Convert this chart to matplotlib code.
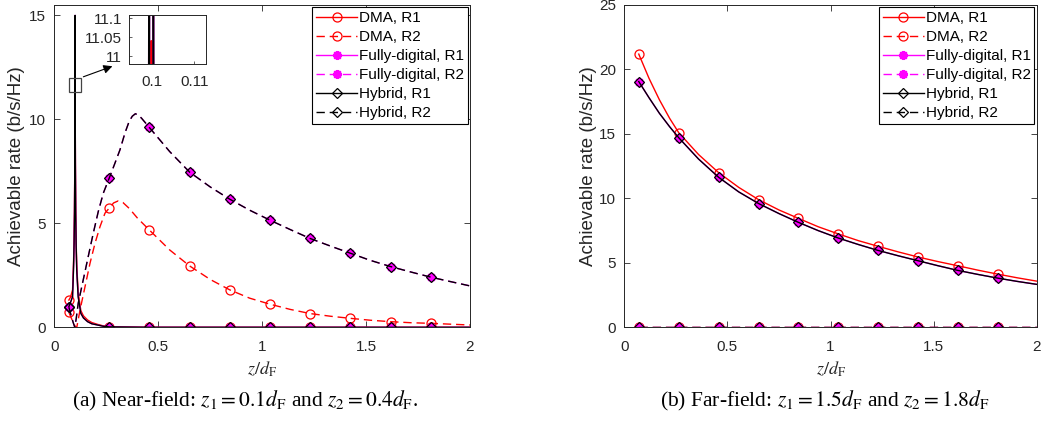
import numpy as np
import matplotlib
matplotlib.use('Agg')
import matplotlib.pyplot as plt
from matplotlib.lines import Line2D
from matplotlib.patches import Rectangle

plt.rcParams['font.family'] = ['Liberation Sans', 'DejaVu Sans']
plt.rcParams['mathtext.fontset'] = 'stix'

# x positions of the markers (same for every curve)
mk_x = [0.07, 0.264, 0.457, 0.651, 0.844, 1.038, 1.231, 1.425, 1.618, 1.812]

# ---- (a) near-field, user R1 (spike at z1 = 0.1)
near_r1_x = [0.07, 0.078, 0.0877, 0.0921, 0.095, 0.097, 0.0985, 0.0994, 0.0996, 0.0998,
             0.0999, 0.1, 0.1002, 0.1004, 0.1013, 0.1028, 0.1048, 0.1077, 0.1146, 0.1275,
             0.14, 0.16, 0.18, 0.208, 0.235, 0.264, 0.457, 0.651, 0.844, 1.038, 1.231,
             1.425, 1.618, 1.812, 2.0]
near_dma_r1 = [1.31, 1.45, 1.8, 3.0, 4.2, 5.7, 8.0, 10.6, 10.95, 11.035,
               11.04, 11.035, 10.95, 10.6, 8.0, 5.7, 4.2, 3.0, 1.7, 0.8,
               0.55, 0.35, 0.23, 0.14, 0.07, 0.03, 0, 0, 0, 0, 0,
               0, 0, 0, 0]
near_hyb_r1 = [0.99, 1.2, 1.47, 2.76, 4.0, 5.5, 7.8, 11.0, 12.6, 14.2,
               15.0, 14.2, 12.6, 11.0, 7.8, 5.5, 4.0, 2.76, 1.47, 0.67,
               0.45, 0.27, 0.17, 0.11, 0.05, 0.02, 0, 0, 0, 0, 0,
               0, 0, 0, 0]
near_fd_r1 = list(near_hyb_r1)

# ---- (a) near-field, user R2
near_hyb_r2_x = [0.07, 0.08, 0.09, 0.0985, 0.105, 0.115, 0.139, 0.163, 0.1875, 0.2115,
                 0.2356, 0.264, 0.29, 0.316, 0.34, 0.36, 0.375, 0.39, 0.405, 0.42,
                 0.457, 0.555, 0.651, 0.75, 0.844, 0.94, 1.038, 1.135, 1.231, 1.33,
                 1.425, 1.52, 1.618, 1.715, 1.812, 1.905, 2.0]
near_hyb_r2 = [0.96, 0.6, 0.25, 0.0, 0.4, 1.16, 2.28, 3.4, 4.53, 5.57,
               6.45, 7.17, 7.85, 8.54, 9.35, 9.9, 10.15, 10.27, 10.2, 10.05,
               9.61, 8.45, 7.46, 6.75, 6.16, 5.63, 5.15, 4.7, 4.27, 3.9,
               3.56, 3.22, 2.92, 2.66, 2.41, 2.2, 1.99]
near_fd_r2 = list(near_hyb_r2)

near_dma_r2_x = [0.07, 0.08, 0.09, 0.1, 0.108, 0.1236, 0.1476, 0.1716, 0.1957, 0.2197,
                 0.2438, 0.264, 0.285, 0.3077, 0.33, 0.36, 0.4, 0.457, 0.555, 0.651,
                 0.75, 0.844, 0.94, 1.038, 1.135, 1.231, 1.33, 1.425, 1.52, 1.618,
                 1.715, 1.812, 1.905, 2.0]
near_dma_r2 = [0.72, 0.48, 0.25, 0.05, 0.0, 0.83, 1.95, 3.08, 4.04, 4.84,
               5.49, 5.73, 5.98, 6.08, 6.0, 5.72, 5.25, 4.68, 3.72, 2.95,
               2.3, 1.8, 1.4, 1.11, 0.86, 0.66, 0.53, 0.43, 0.34, 0.27,
               0.22, 0.19, 0.15, 0.11]

# ---- (b) far-field
far_x = [0.07, 0.12, 0.17, 0.22, 0.264, 0.36, 0.457, 0.555, 0.651, 0.75, 0.844, 0.94,
         1.038, 1.135, 1.231, 1.33, 1.425, 1.52, 1.618, 1.715, 1.812, 1.905, 2.0]
far_dma_r1 = [21.19, 19.3, 17.65, 16.2, 15.09, 13.4, 12.0, 10.85, 9.9, 9.1, 8.45, 7.8,
              7.24, 6.72, 6.28, 5.84, 5.45, 5.1, 4.77, 4.43, 4.12, 3.84, 3.58]
far_hyb_r1 = [19.06, 17.8, 16.6, 15.55, 14.7, 13.05, 11.64, 10.5, 9.6, 8.82, 8.14, 7.5,
              6.92, 6.42, 5.96, 5.54, 5.16, 4.78, 4.41, 4.1, 3.81, 3.56, 3.33]
far_fd_r1 = list(far_hyb_r1)
far_r2 = [0.0] * len(far_x)

labels = ['DMA, R1', 'DMA, R2', 'Fully-digital, R1', 'Fully-digital, R2',
          'Hybrid, R1', 'Hybrid, R2']

DASH = (0, (6, 3.5))
ASTER = (8, 2, 0)
styles = [
    dict(color='r', ls='-', marker='o', mfc='none', ms=6.5, mew=0.9),
    dict(color='r', ls=DASH, marker='o', mfc='none', ms=6.5, mew=0.9),
    dict(color='magenta', ls='-', marker=ASTER, ms=6.5, mew=1.6),
    dict(color='magenta', ls=DASH, marker=ASTER, ms=6.5, mew=1.6),
    dict(color='k', ls='-', marker='D', mfc='none', ms=5.5, mew=0.9),
    dict(color='k', ls=DASH, marker='D', mfc='none', ms=5.5, mew=0.9),
]
GRAY = '#262626'


def draw(ax, x, y, st, lw=1.0):
    x = np.asarray(x)
    idx = [int(np.argmin(np.abs(x - m))) for m in mk_x]
    ax.plot(x, y, lw=lw, markevery=idx, **st)


def style_axes(ax):
    ax.tick_params(direction='in', top=True, right=True, length=4, width=0.6,
                   colors=GRAY, labelsize=11, pad=6)
    ax.tick_params(axis='x', pad=9.5)
    for s in ax.spines.values():
        s.set_color(GRAY)
        s.set_linewidth(0.7)
    ax.set_xlim(0, 2)
    ax.set_xticks([0, 0.5, 1, 1.5, 2])
    ax.set_xticklabels(['0', '0.5', '1', '1.5', '2'])
    ax.set_xlabel(r'$z/d_{\rm F}$', fontsize=13, color=GRAY)
    ax.xaxis.set_label_coords(0.5, -0.1)
    ax.set_ylabel('Achievable rate (b/s/Hz)', fontsize=13.5, color=GRAY)
    ax.yaxis.set_label_coords(-0.07, 0.5)


def add_legend(ax):
    handles = [Line2D([], [], lw=1.0, **st) for st in styles]
    leg = ax.legend(handles, labels, loc='upper right', fontsize=11, frameon=True,
                    fancybox=False, edgecolor='k', framealpha=1, borderaxespad=0.15,
                    handlelength=2.7, handletextpad=0.1, labelspacing=0.33,
                    borderpad=0.25)
    leg.get_frame().set_linewidth(0.8)


fig = plt.figure(figsize=(10.47, 4.25), dpi=100)
ax1 = fig.add_axes([0.0519, 0.2299, 0.397, 0.7584])
ax2 = fig.add_axes([0.5963, 0.2299, 0.3939, 0.7584])

# near-field
draw(ax1, near_r1_x, near_dma_r1, styles[0])
draw(ax1, near_dma_r2_x, near_dma_r2, styles[1])
draw(ax1, near_r1_x, near_fd_r1, styles[2])
draw(ax1, near_hyb_r2_x, near_fd_r2, styles[3])
draw(ax1, near_r1_x, near_hyb_r1, styles[4])
draw(ax1, near_hyb_r2_x, near_hyb_r2, styles[5])
style_axes(ax1)
ax1.set_ylim(0, 15.5)
ax1.set_yticks([0, 5, 10, 15])
add_legend(ax1)

# zoom box and arrow
ax1.add_patch(Rectangle((0.0707, 11.3), 0.0563, 0.7, fill=False, ec='#444444', lw=0.9,
                        zorder=5))
ax1.annotate('', xy=(0.292, 12.6), xytext=(0.127, 12.0),
             arrowprops=dict(arrowstyle='-|>', color='k', lw=0.8, mutation_scale=13))

# inset
axi = fig.add_axes([0.1232, 0.8494, 0.0735, 0.116])
draw(axi, near_r1_x, near_dma_r1, styles[0], lw=1.6)
draw(axi, near_r1_x, near_fd_r1, styles[2], lw=1.6)
draw(axi, near_r1_x, near_hyb_r1, styles[4], lw=1.6)
axi.set_xlim(0.0947, 0.1127)
axi.set_ylim(10.98, 11.109)
axi.set_xticks([0.1, 0.11])
axi.set_xticklabels(['0.1', '0.11'])
axi.set_yticks([11, 11.05, 11.1])
axi.set_yticklabels(['11', '11.05', '11.1'])
axi.tick_params(direction='in', length=2, width=0.5, colors=GRAY, labelsize=11)
axi.tick_params(axis='x', pad=8)
axi.tick_params(axis='y', pad=5)
for s in axi.spines.values():
    s.set_color(GRAY)
    s.set_linewidth(0.7)

# far-field
draw(ax2, far_x, far_dma_r1, styles[0])
draw(ax2, far_x, far_r2, styles[1])
draw(ax2, far_x, far_fd_r1, styles[2])
draw(ax2, far_x, far_r2, styles[3])
draw(ax2, far_x, far_hyb_r1, styles[4])
draw(ax2, far_x, far_r2, styles[5])
style_axes(ax2)
ax2.set_ylim(0, 25)
ax2.set_yticks([0, 5, 10, 15, 20, 25])
ax2.yaxis.set_label_coords(-0.066, 0.5)
add_legend(ax2)

cap_font = dict(fontsize=15.5, family=['Liberation Serif', 'DejaVu Serif'],
                ha='center', va='center')
fig.text(0.234, 0.057, r'(a) Near-field: $z_1 = 0.1d_{\rm F}$ and $z_2 = 0.4d_{\rm F}$.',
         **cap_font)
fig.text(0.788, 0.057, r'(b) Far-field: $z_1 = 1.5d_{\rm F}$ and $z_2 = 1.8d_{\rm F}$',
         **cap_font)

fig.savefig('out.png', dpi=100, facecolor='white')
